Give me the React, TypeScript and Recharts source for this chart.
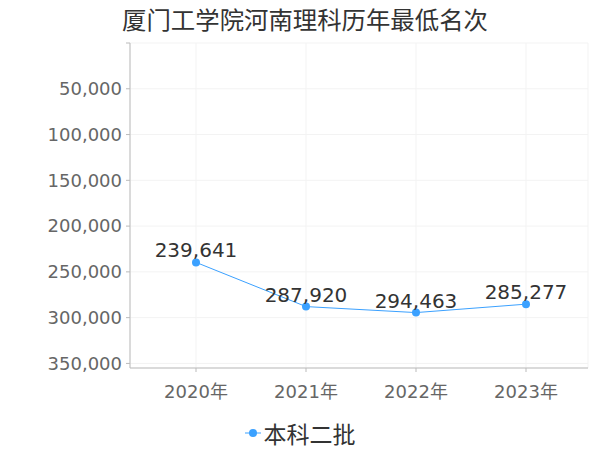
import React from "react";
import { LineChart, Line, XAxis, YAxis, CartesianGrid, Legend, LabelList } from "recharts";

const years = ["2020年", "2021年", "2022年", "2023年"];
const minRank = [239641, 287920, 294463, 285277];
const yTicks = [0, 50000, 100000, 150000, 200000, 250000, 300000, 350000];

const data = years.map((year, i) => ({ year, rank: minRank[i] }));

const CJK = "'Noto Sans CJK SC', sans-serif";
const NUM = "'DejaVu Sans', 'Noto Sans CJK SC', sans-serif";
const COLOR = "#3ba1ff";

const fmt = (v: number) => (v === 0 ? "" : v.toLocaleString("en-US"));

function LegendContent() {
    return (
        <div
            style={{
                display: "flex",
                justifyContent: "center",
                alignItems: "center",
                fontFamily: CJK,
                paddingTop: 4,
                paddingLeft: 12,
            }}
        >
            <svg width={16} height={12} style={{ marginRight: 3 }}>
                <line x1={0} y1={6} x2={16} y2={6} stroke={COLOR} strokeWidth={1} />
                <circle cx={8} cy={6} r={4} fill={COLOR} />
            </svg>
            <span style={{ fontSize: 23, color: "#333" }}>本科二批</span>
        </div>
    );
}

export default function App() {
    return (
        <div style={{ position: "absolute", left: 0, top: 0, width: 600, height: 450, background: "#fff" }}>
            <div
                style={{
                    position: "absolute",
                    top: 3,
                    left: 5,
                    width: 600,
                    textAlign: "center",
                    fontFamily: CJK,
                    fontSize: 24.4,
                    color: "#333",
                    lineHeight: "32px",
                }}
            >
                厦门工学院河南理科历年最低名次
            </div>
            <LineChart width={600} height={450} data={data} margin={{ top: 43, right: 12, left: 0, bottom: 0 }}>
                <CartesianGrid stroke="#f3f3f3" />
                <XAxis
                    dataKey="year"
                    scale="point"
                    padding={{ left: 66, right: 62 }}
                    stroke="#bbb"
                    tick={{ fill: "#666", fontSize: 18, fontFamily: NUM }}
                    tickSize={4}
                    tickMargin={13}
                    height={44}
                />
                <YAxis
                    reversed
                    domain={[0, 355000]}
                    ticks={yTicks}
                    tickFormatter={fmt}
                    width={130}
                    stroke="#bbb"
                    tick={{ fill: "#666", fontSize: 18, fontFamily: NUM }}
                    tickSize={4}
                    tickMargin={4}
                />
                <Legend verticalAlign="bottom" height={38} content={<LegendContent />} />
                <Line
                    type="linear"
                    dataKey="rank"
                    name="本科二批"
                    stroke={COLOR}
                    strokeWidth={1}
                    dot={{ r: 4, fill: COLOR, stroke: COLOR, strokeWidth: 0 }}
                    activeDot={false}
                    isAnimationActive={false}
                >
                    <LabelList
                        dataKey="rank"
                        position="top"
                        offset={5}
                        formatter={(v: any) => Number(v).toLocaleString("en-US")}
                        style={{ fill: "#333", fontSize: 20, fontFamily: NUM }}
                    />
                </Line>
            </LineChart>
        </div>
    );
}
